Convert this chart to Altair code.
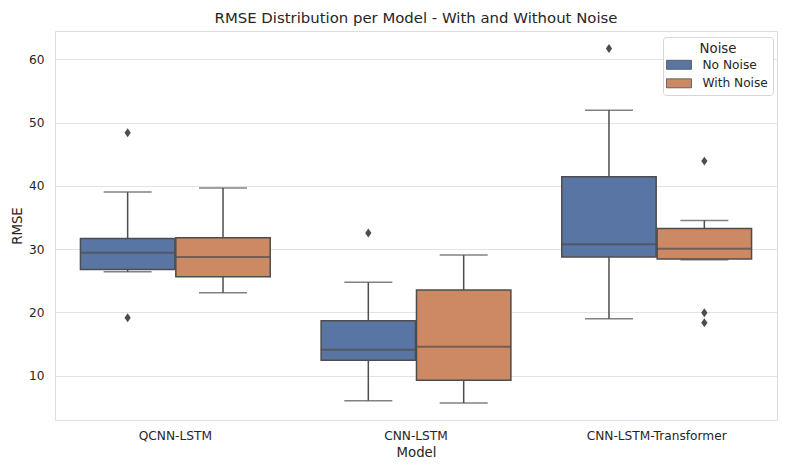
import altair as alt
import pandas as pd

models = ["QCNN-LSTM", "CNN-LSTM", "CNN-LSTM-Transformer"]
noise_levels = ["No Noise", "With Noise"]

# per (model, noise) in order: QCNN/No, QCNN/With, CNN/No, CNN/With, Trans/No, Trans/With
box_model = ["QCNN-LSTM", "QCNN-LSTM", "CNN-LSTM", "CNN-LSTM", "CNN-LSTM-Transformer", "CNN-LSTM-Transformer"]
box_noise = ["No Noise", "With Noise", "No Noise", "With Noise", "No Noise", "With Noise"]
whisker_low = [26.43, 23.12, 6.05, 5.69, 19.0, 28.33]
q1 = [26.8, 25.64, 12.43, 9.27, 28.76, 28.44]
median = [29.44, 28.76, 14.1, 14.58, 30.77, 30.07]
q3 = [31.71, 31.8, 18.69, 23.54, 41.45, 33.29]
whisker_high = [39.03, 39.66, 24.76, 29.07, 51.99, 34.56]

outlier_model = ["QCNN-LSTM", "QCNN-LSTM", "CNN-LSTM", "CNN-LSTM-Transformer",
                 "CNN-LSTM-Transformer", "CNN-LSTM-Transformer", "CNN-LSTM-Transformer"]
outlier_noise = ["No Noise", "No Noise", "No Noise", "No Noise", "With Noise", "With Noise", "With Noise"]
outlier_value = [48.4, 19.17, 32.55, 61.74, 43.93, 19.96, 18.38]

colors = ["#5875a4", "#cc8963"]
edge = "#4d4d4d"
text_color = "#262626"
font = "DejaVu Sans"

boxes = pd.DataFrame({
    "Model": box_model, "Noise": box_noise, "lo": whisker_low, "q1": q1,
    "med": median, "q3": q3, "hi": whisker_high,
})
outliers = pd.DataFrame({"Model": outlier_model, "Noise": outlier_noise, "RMSE": outlier_value})

x_enc = alt.X("Model:N", sort=models, title="Model",
              scale=alt.Scale(paddingInner=0, paddingOuter=0),
              axis=alt.Axis(labelAngle=0, ticks=False, domain=False, labelPadding=9,
                            labelFontSize=12.2, titleFontSize=13.3, titleFontWeight="normal",
                            labelColor=text_color, titleColor=text_color, titlePadding=4,
                            labelFont=font, titleFont=font))
xo = alt.XOffset("Noise:N", sort=noise_levels,
                 scale=alt.Scale(paddingInner=0.01, paddingOuter=0.2667))
y_scale = alt.Scale(domain=[3.0, 64.5], nice=False, zero=False)
y_axis = alt.Axis(values=[10, 20, 30, 40, 50, 60], ticks=False, domain=False, labelPadding=11,
                  gridColor="#e3e3e3", gridWidth=1, labelFontSize=12.2, titleFontSize=13.3,
                  titleFontWeight="normal", labelColor=text_color, titleColor=text_color,
                  labelFont=font, titleFont=font, titlePadding=4)

base = alt.Chart(boxes)

whiskers = base.mark_rule(color=edge, strokeWidth=1.5).encode(
    x=x_enc, xOffset=xo,
    y=alt.Y("lo:Q", scale=y_scale, axis=y_axis, title="RMSE"),
    y2="hi:Q",
)
caps_lo = base.mark_tick(color=edge, thickness=1.5, size=48, orient="horizontal").encode(
    x=x_enc, xOffset=xo, y=alt.Y("lo:Q", scale=y_scale))
caps_hi = base.mark_tick(color=edge, thickness=1.5, size=48, orient="horizontal").encode(
    x=x_enc, xOffset=xo, y=alt.Y("hi:Q", scale=y_scale))
box = base.mark_bar(stroke=edge, strokeWidth=1.5).encode(
    x=x_enc, xOffset=xo,
    y=alt.Y("q1:Q", scale=y_scale),
    y2="q3:Q",
    color=alt.Color("Noise:N", sort=noise_levels,
                    scale=alt.Scale(domain=noise_levels, range=colors),
                    legend=alt.Legend(
                        title="Noise", orient="none", legendX=608, legendY=6,
                        symbolType="M-2.08,-0.75L2.08,-0.75L2.08,0.75L-2.08,0.75Z", symbolSize=144,
                        symbolStrokeColor=edge, symbolStrokeWidth=0.8, symbolOffset=4.5,
                        fillColor="#ffffff", strokeColor="#d6d6d6", cornerRadius=3,
                        padding=5, titleAnchor="middle", titleFontSize=13.3,
                        titleFontWeight="normal", labelFontSize=12.2,
                        titleColor=text_color, labelColor=text_color,
                        titleFont=font, labelFont=font, rowPadding=5.5, titlePadding=3,
                        labelOffset=17)),
)
med = base.mark_tick(color=edge, thickness=2, size=95, orient="horizontal").encode(
    x=x_enc, xOffset=xo, y=alt.Y("med:Q", scale=y_scale))
pts = alt.Chart(outliers).mark_point(
    shape="M0,-1L0.7,0L0,1L-0.7,0Z", filled=True, color=edge, size=80, opacity=1
).encode(x=x_enc, xOffset=xo, y=alt.Y("RMSE:Q", scale=y_scale))

chart = alt.layer(whiskers, caps_lo, caps_hi, box, med, pts).properties(
    width=722, height=389,
    title=alt.TitleParams("RMSE Distribution per Model - With and Without Noise",
                          fontSize=14.9, fontWeight="normal", color=text_color, font=font,
                          offset=5),
    autosize=alt.AutoSizeParams(type="none"),
    padding={"left": 47, "top": 23, "right": 12, "bottom": 40},
).configure_view(stroke="#d0d0d0", strokeWidth=1.25).configure(background="#ffffff")

chart.save("out.html", embed_options={"renderer": "svg", "actions": False})
